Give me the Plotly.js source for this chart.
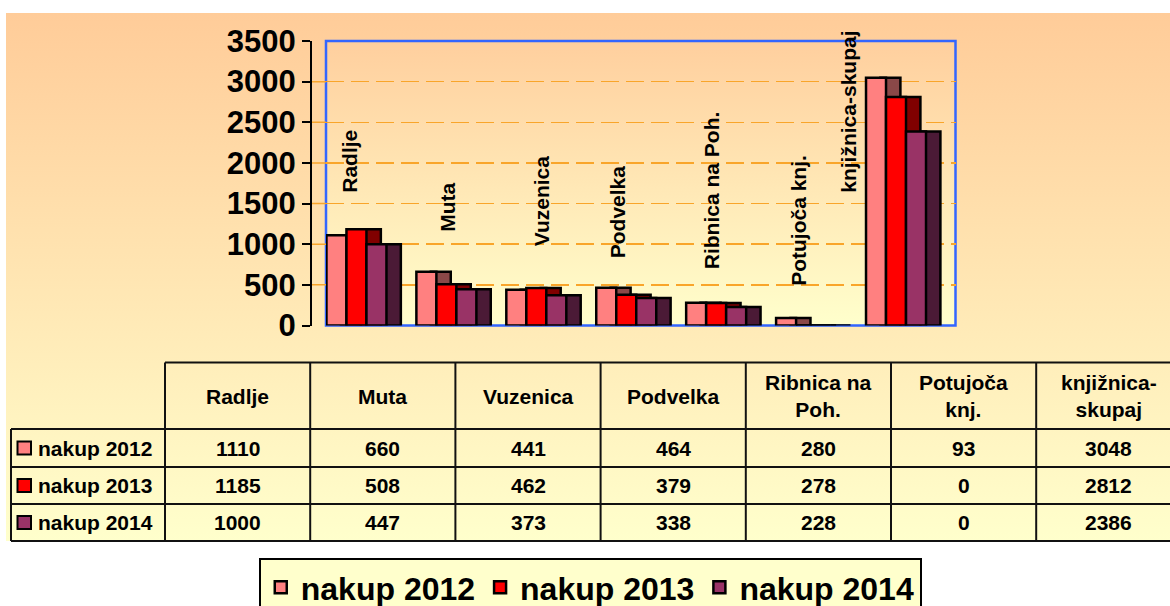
<!DOCTYPE html>
<html>
<head>
<meta charset="utf-8">
<script src="https://cdn.plot.ly/plotly-3.0.1.min.js"></script>
<style>
  html, body { margin: 0; padding: 0; background: #ffffff; }
  #wrap { position: relative; width: 1170px; height: 606px; overflow: hidden; }
  /* chart area and plot area gradients sit behind a transparent plotly paper */
  #bgOuter { position: absolute; left: 6px; top: 13px; width: 1164px; height: 528px;
    background: linear-gradient(to bottom, #FFCC99 0%, #FFFFCC 100%); }
  #bgPlot { position: absolute; left: 326px; top: 41px; width: 630px; height: 285px;
    background: linear-gradient(to bottom, #FFCF9E 0%, #FFFFCC 100%); }
  #chart { position: absolute; left: 0; top: 0; width: 1170px; height: 606px; }
</style>
</head>
<body>
<div id="wrap">
  <div id="bgOuter"></div>
  <div id="bgPlot"></div>
  <div id="chart"></div>
</div>
<script>
var categories = ["Radlje", "Muta", "Vuzenica", "Podvelka", "Ribnica na Poh.", "Potujoča knj.", "knjižnica-skupaj"];
var tableHeads = ["Radlje", "Muta", "Vuzenica", "Podvelka", "Ribnica na<br>Poh.", "Potujoča<br>knj.", "knjižnica-<br>skupaj"];
var seriesNames = ["nakup 2012", "nakup 2013", "nakup 2014"];
var nakup2012 = [1110, 660, 441, 464, 280, 93, 3048];
var nakup2013 = [1185, 508, 462, 379, 278, 0, 2812];
var nakup2014 = [1000, 447, 373, 338, 228, 0, 2386];
var yTicks = [0, 500, 1000, 1500, 2000, 2500, 3000, 3500];

var frontColors = ["#FF8080", "#FF0000", "#993366"];
var sideColors = ["#8A4848", "#800000", "#4B1A36"];

// rotated category labels inside the plot: [x in category units, y in value units]
var labelSpots = [[-0.233, 2015], [0.857, 1448], [1.896, 1534], [2.736, 1393], [3.781, 1664], [4.76, 1288], [5.316, 2630]];

var W = 1170, H = 606;
function px(x) { return x / W; }
function py(y) { return 1 - y / H; }

var FONT = "Liberation Sans, Arial, sans-serif";
var BW = 0.2224, DEPTH = 0.16, START = -0.495;
var allSeries = [nakup2012, nakup2013, nakup2014];

var traces = [];
// back (side) faces first so that the fronts cover them
allSeries.forEach(function (vals, s) {
  traces.push({
    type: "bar", x: categories, y: vals, name: seriesNames[s] + " side",
    offset: START + s * BW + DEPTH, width: BW,
    marker: { color: sideColors[s], line: { color: "#000", width: 2.5 } },
    showlegend: false, hoverinfo: "skip"
  });
});
allSeries.forEach(function (vals, s) {
  traces.push({
    type: "bar", x: categories, y: vals, name: seriesNames[s],
    offset: START + s * BW, width: BW,
    marker: { color: frontColors[s], line: { color: "#000", width: 2.5 } }
  });
});

var annotations = [];
categories.forEach(function (c, i) {
  annotations.push({
    xref: "x", yref: "y", x: labelSpots[i][0], y: labelSpots[i][1],
    text: c, textangle: -90, showarrow: false, xanchor: "center", yanchor: "middle",
    font: { family: FONT, size: 21, color: "#000", weight: "bold" }
  });
});

// data table below the chart
var colX = [];
for (var k = 0; k <= 7; k++) colX.push(165 + 145.2 * k);
var rowY = [362.5, 429, 467, 504, 541];
var shapes = [];
function hline(x0, x1, y) {
  shapes.push({ type: "line", xref: "paper", yref: "paper", x0: px(x0), x1: px(x1), y0: py(y), y1: py(y), line: { color: "#111", width: 2 } });
}
function vline(x, y0, y1) {
  shapes.push({ type: "line", xref: "paper", yref: "paper", x0: px(x), x1: px(x), y0: py(y0), y1: py(y1), line: { color: "#111", width: 2 } });
}
hline(165, 1175, rowY[0]);
for (var r = 1; r < rowY.length; r++) hline(11, 1175, rowY[r]);
vline(11, rowY[1], rowY[4]);
for (var c = 0; c < 7; c++) vline(colX[c], rowY[0], rowY[4]);

var tableFont = { family: FONT, size: 21, color: "#000", weight: "bold" };
tableHeads.forEach(function (h, i) {
  annotations.push({
    xref: "paper", yref: "paper", x: px((colX[i] + colX[i + 1]) / 2), y: py(396),
    text: h, showarrow: false, xanchor: "center", yanchor: "middle", font: tableFont
  });
});
allSeries.forEach(function (vals, s) {
  var yc = (rowY[s + 1] + rowY[s + 2]) / 2;
  shapes.push({
    type: "rect", xref: "paper", yref: "paper", x0: px(17.5), x1: px(31), y0: py(yc - 6.5), y1: py(yc + 6.5),
    fillcolor: frontColors[s], line: { color: "#000", width: 2 }
  });
  annotations.push({
    xref: "paper", yref: "paper", x: px(36), y: py(yc),
    text: seriesNames[s], showarrow: false, xanchor: "left", yanchor: "middle", font: tableFont
  });
  vals.forEach(function (v, i) {
    annotations.push({
      xref: "paper", yref: "paper", x: px((colX[i] + colX[i + 1]) / 2), y: py(yc),
      text: String(v), showarrow: false, xanchor: "center", yanchor: "middle", font: tableFont
    });
  });
});

// blue back wall of the plot
shapes.push({
  type: "rect", xref: "x domain", yref: "y domain", x0: 0, x1: 1, y0: 0, y1: 1,
  line: { color: "#3366FF", width: 2.5 }, layer: "below"
});
// short grid stubs on the floor between the axis line and the back wall
yTicks.slice(1, 7).forEach(function (t) {
  shapes.push({ type: "line", xref: "paper", yref: "y", x0: px(312), x1: px(326), y0: t, y1: t, line: { color: "#F9A52A", width: 1.5 } });
});

var layout = {
  width: W, height: H,
  paper_bgcolor: "rgba(0,0,0,0)", plot_bgcolor: "rgba(0,0,0,0)",
  margin: { l: 0, r: 0, t: 0, b: 0, autoexpand: false },
  barmode: "overlay",
  font: { family: FONT, color: "#000" },
  xaxis: {
    type: "category", domain: [px(326), px(955.5)], range: [-0.5, 6.5],
    visible: false, fixedrange: true
  },
  yaxis: {
    domain: [py(325.5), py(41)], range: [0, 3500], tickvals: yTicks,
    anchor: "free", position: px(311),
    showline: true, linecolor: "#000", linewidth: 2,
    ticks: "outside", ticklen: 8, tickwidth: 2, tickcolor: "#000",
    tickfont: { family: FONT, size: 31, color: "#000", weight: "bold" },
    ticklabelstandoff: 0,
    showgrid: true, gridcolor: "#F9A52A", gridwidth: 1.5, griddash: "18px,7px",
    zeroline: false, fixedrange: true
  },
  showlegend: true,
  legend: {
    orientation: "h", x: 0.5045, xanchor: "center", y: py(558), yanchor: "top",
    bgcolor: "#FFFFCC", bordercolor: "#000", borderwidth: 2,
    font: { family: FONT, size: 32, color: "#000", weight: "bold" },
    traceorder: "normal"
  },
  shapes: shapes,
  annotations: annotations
};

Plotly.newPlot("chart", traces, layout, { displayModeBar: false, staticPlot: true });
</script>
</body>
</html>
